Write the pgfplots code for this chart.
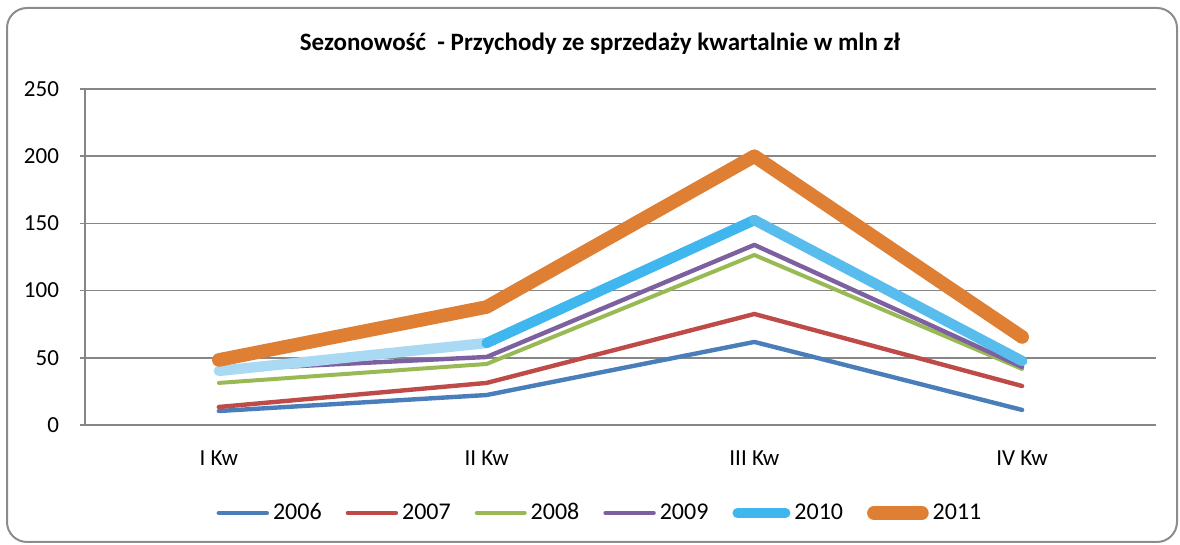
\documentclass[border=0pt]{standalone}
\usepackage{fontspec}
\setmainfont{Carlito}
\usepackage{pgfplots}
\pgfplotsset{compat=1.18}
\definecolor{c06}{HTML}{4A7EBB}
\definecolor{c07}{HTML}{BE4B48}
\definecolor{c08}{HTML}{98B954}
\definecolor{c09}{HTML}{7D60A0}
\definecolor{c10a}{HTML}{AAD9F3}
\definecolor{c10b}{HTML}{3FB7EE}
\definecolor{c10c}{HTML}{58BDEC}
\definecolor{c11}{HTML}{DF7F33}
\definecolor{gridc}{HTML}{868686}
\definecolor{framec}{HTML}{8C8C8C}
\pgfplotsset{mylegimg/.style={legend image code/.code={\draw[line cap=round,#1] (0pt,0pt) -- (24pt,0pt);}}}
\begin{document}
\begin{tikzpicture}[line cap=round, line join=round]
\begin{axis}[
  at={(42.5pt,60pt)}, anchor=south west,
  scale only axis, width=535.5pt, height=168pt,
  xmin=-0.5, xmax=3.5, ymin=0, ymax=250,
  xtick={0,1,2,3}, xticklabels={I Kw, II Kw, III Kw, IV Kw},
  ytick={0,50,100,150,200,250},
  axis lines*=left,
  axis line style={gridc, line width=0.75pt, line cap=butt},
  ymajorgrids, grid style={gridc, line width=0.75pt, line cap=butt},
  xtick style={draw=none},
  ytick style={gridc, line width=0.75pt, line cap=butt},
  tick align=outside, major tick length=2.5pt,
  /pgf/number format/assume math mode=true,
  ticklabel style={font=\fontsize{11.5}{13}\selectfont, text=black},
  yticklabel style={xshift=-7pt},
  xticklabel style={yshift=-7pt},
  every axis plot/.append style={line cap=round, line join=round},
  clip=false,
  legend columns=6,
  legend style={draw=none, fill=none, at={(axis description cs:0.4818,-0.262)}, anchor=center,
    font=\fontsize{12}{14}\selectfont, /tikz/every even column/.append style={column sep=10pt},
    inner sep=0pt},
  mylegimg,
]
\addplot[c06, line width=2.2pt] coordinates {(0,10.4) (1,22.3) (2,61.8) (3,11.2)};
\addlegendentry{2006}
\addplot[c07, line width=2.2pt] coordinates {(0,13.4) (1,31.3) (2,82.6) (3,29)};
\addlegendentry{2007}
\addplot[c08, line width=2.0pt] coordinates {(0,31.3) (1,45.4) (2,126.5) (3,41.7)};
\addlegendentry{2008}
\addplot[c09, line width=2.2pt] coordinates {(0,41) (1,50.6) (2,134) (3,43.2)};
\addlegendentry{2009}
\addlegendimage{c10b, line width=5pt}
\addlegendentry{2010}
\addplot[c10a, line width=5.2pt, forget plot] coordinates {(0,40.2) (1,61)};
\addplot[c10b, line width=5.2pt, forget plot] coordinates {(1,61) (2,152.5)};
\addplot[c10c, line width=5.2pt, forget plot] coordinates {(2,152.5) (3,47.6)};
\addplot[c11, line width=6.8pt] coordinates {(0,48.4) (1,87.8) (2,200) (3,65.5)};
\addlegendentry{2011}
\end{axis}
\node[font=\fontsize{12.5}{14}\selectfont\bfseries] at (300pt,250.5pt) {Sezonowość \ - Przychody ze sprzedaży kwartalnie w mln zł};
\draw[framec, line width=1pt, rounded corners=10pt] (3.5pt,1.5pt) rectangle (588.5pt,268.5pt);
\pgfresetboundingbox
\useasboundingbox (0,0) rectangle (590pt,272.5pt);
\end{tikzpicture}
\end{document}
